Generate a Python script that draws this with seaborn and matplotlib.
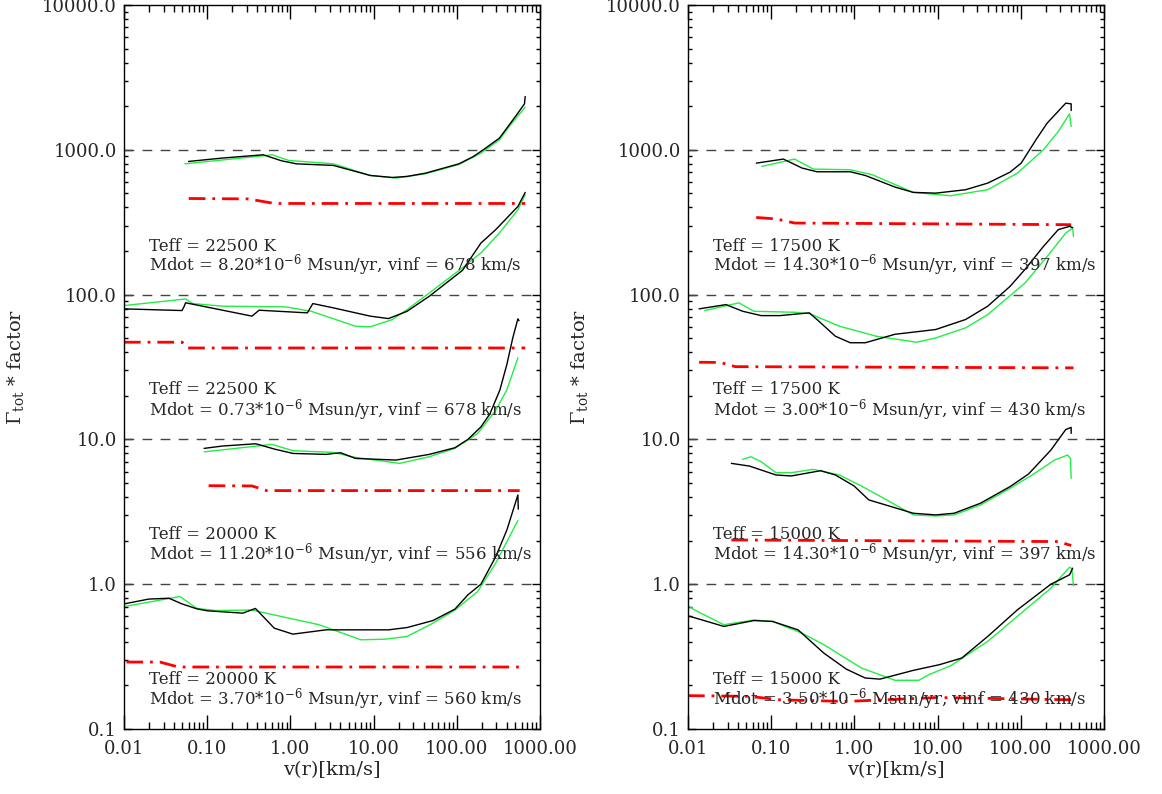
import numpy as np
import pandas as pd
import matplotlib
matplotlib.use("Agg")
import matplotlib.pyplot as plt
import matplotlib.ticker as mticker
import seaborn as sns

# ---------------- data ----------------
# Left panel
A_bk_x = [0.0597, 0.153, 0.471, 0.78, 1.18, 3.28, 6.05, 9.1, 16.8, 25.3, 42.2, 106, 159, 216, 325, 442, 542, 651, 664]
A_bk_y = [831, 877, 924, 840, 800, 780, 709, 665, 644, 655, 690, 800, 900, 1016, 1203, 1527, 1790, 2077, 2334]
A_gr_x = [0.054, 0.47, 0.6, 0.96, 3.28, 9.1, 18.6, 42, 106, 195, 325, 442, 664]
A_gr_y = [800, 909, 924, 844, 800, 665, 638, 683, 792, 948, 1172, 1487, 1968]
A_rd_x = [0.06, 0.31, 0.64, 664]
A_rd_y = [461, 458, 426, 426]

B_bk_x = [0.01, 0.0498, 0.053, 0.055, 0.346, 0.42, 1.60, 1.86, 3.28, 9.1, 15.1, 25.3, 46.7, 117, 195, 294, 542, 664]
B_bk_y = [79.7, 77.6, 83.2, 87.8, 71, 78, 74.8, 86.7, 81, 71, 68.3, 76.7, 97.4, 147, 227, 281, 406, 508]
B_gr_x = [0.01, 0.055, 0.067, 0.153, 0.87, 1.78, 6.05, 9.1, 16.8, 25.3, 46.7, 117, 195, 325, 542, 664]
B_gr_y = [84, 93.3, 86.7, 83.2, 82.3, 76.7, 60.5, 59.9, 67.2, 78.8, 102.6, 153, 194, 266, 385, 490]
B_rd_x = [0.01, 0.05, 0.058, 664]
B_rd_y = [46.9, 46.9, 42.8, 42.8]

C_bk_x = [0.0918, 0.153, 0.384, 0.64, 1.07, 2.69, 4.0, 6.05, 18.6, 46.7, 95, 136, 195, 250, 330, 400, 470, 542, 560]
C_bk_y = [8.67, 9.0, 9.33, 8.58, 8.0, 7.88, 8.09, 7.39, 7.2, 7.88, 8.76, 10, 12.2, 15, 22, 33, 50, 68, 66]
C_gr_x = [0.092, 0.6, 1.07, 3.28, 6.05, 20.5, 46.7, 95, 178, 294, 400, 542]
C_gr_y = [8.2, 9.24, 8.36, 8.13, 7.51, 6.83, 7.59, 8.67, 11.0, 15.9, 22, 36.6]
C_rd_x = [0.104, 0.346, 0.52, 570]
C_rd_y = [4.79, 4.77, 4.43, 4.43]

D_bk_x = [0.01, 0.0198, 0.0347, 0.0498, 0.0749, 0.101, 0.268, 0.38, 0.64, 1.07, 2.69, 15.1, 25.3, 51.7, 95, 136, 195, 294, 400, 542, 548]
D_bk_y = [0.731, 0.789, 0.80, 0.731, 0.676, 0.655, 0.631, 0.68, 0.497, 0.452, 0.484, 0.484, 0.502, 0.561, 0.673, 0.844, 1.0, 1.55, 2.37, 4.13, 3.3]
D_gr_x = [0.01, 0.047, 0.075, 0.125, 0.346, 0.78, 2.21, 7.05, 13.7, 25.3, 51.7, 95, 178, 294, 542]
D_gr_y = [0.70, 0.822, 0.681, 0.658, 0.663, 0.598, 0.525, 0.413, 0.417, 0.436, 0.538, 0.663, 0.889, 1.40, 2.75]
D_rd_x = [0.0107, 0.027, 0.045, 570]
D_rd_y = [0.29, 0.29, 0.268, 0.268]

# Right panel
E_bk_x = [0.0662, 0.140, 0.235, 0.355, 0.893, 1.35, 3.07, 5.1, 9.5, 21.7, 40.1, 74.3, 101, 152, 207, 347, 403, 403]
E_bk_y = [809, 863, 748, 705, 705, 665, 553, 508, 502, 530, 589, 701, 809, 1172, 1527, 2100, 2077, 1867]
E_gr_x = [0.077, 0.191, 0.32, 0.89, 1.64, 5.1, 14.3, 40.1, 91, 187, 282, 385, 403]
E_gr_y = [768, 863, 736, 728, 673, 508, 482, 530, 690, 1000, 1337, 1771, 1449]
E_rd_x = [0.066, 0.115, 0.191, 403]
E_rd_y = [341, 333, 312, 304]

F_bk_x = [0.0136, 0.0286, 0.0455, 0.0758, 0.127, 0.287, 0.355, 0.59, 0.893, 1.35, 3.07, 9.5, 21.7, 40.1, 74.3, 112, 187, 282, 385, 420]
F_bk_y = [79.7, 85.3, 76.7, 71.6, 71.6, 74.8, 67.3, 51.6, 46.5, 46.5, 53.2, 57.4, 67.3, 83.2, 114, 149, 215, 281, 296, 290]
F_gr_x = [0.0159, 0.0409, 0.0618, 0.191, 0.287, 0.66, 1.83, 5.6, 9.5, 21.7, 40.1, 112, 207, 347, 420, 430]
F_gr_y = [77.6, 87.7, 76.7, 75.5, 74, 60.5, 51.6, 46.9, 50.2, 58.9, 72.8, 120, 183, 266, 288, 252]
F_rd_x = [0.0136, 0.0245, 0.037, 430]
F_rd_y = [34.1, 34.0, 31.8, 31.2]

G_bk_x = [0.0332, 0.055, 0.114, 0.174, 0.393, 0.59, 0.99, 1.49, 5.1, 9.5, 15.8, 32.6, 74.3, 124, 230, 347, 403, 403]
G_bk_y = [6.83, 6.54, 5.68, 5.59, 6.08, 5.68, 4.77, 3.82, 3.09, 3.01, 3.09, 3.62, 4.72, 5.77, 8.44, 11.7, 12.1, 11.0]
G_gr_x = [0.0453, 0.057, 0.0758, 0.114, 0.174, 0.32, 0.66, 1.21, 2.25, 5.1, 9.5, 15.8, 32.6, 74.3, 137, 255, 365, 395, 403]
G_gr_y = [7.28, 7.59, 7.01, 5.89, 5.89, 6.21, 5.68, 4.77, 3.92, 3.01, 2.96, 3.01, 3.52, 4.59, 5.68, 7.2, 7.8, 7.4, 5.38]
G_rd_x = [0.0332, 282, 403]
G_rd_y = [2.02, 1.97, 1.85]

H_bk_x = [0.01, 0.027, 0.062, 0.104, 0.21, 0.43, 0.8, 1.35, 2.03, 5.1, 10.5, 19.5, 40.1, 91, 230, 385, 420]
H_bk_y = [0.605, 0.511, 0.561, 0.553, 0.484, 0.334, 0.259, 0.225, 0.221, 0.254, 0.278, 0.309, 0.436, 0.665, 1.0, 1.16, 1.29]
H_gr_x = [0.01, 0.0119, 0.027, 0.062, 0.104, 0.235, 0.43, 1.21, 3.07, 5.95, 7.8, 14.3, 40.1, 101, 230, 385, 410, 430]
H_gr_y = [0.71, 0.665, 0.525, 0.566, 0.553, 0.459, 0.382, 0.264, 0.217, 0.217, 0.237, 0.273, 0.403, 0.631, 0.938, 1.31, 1.28, 0.975]
H_rd_x = [0.01, 0.055, 0.127, 0.8, 10, 430]
H_rd_y = [0.170, 0.168, 0.159, 0.155, 0.165, 0.159]

ref_levels = [1.0, 10.0, 100.0, 1000.0]

left_labels = [
    ("Teff = 22500 K", r"Mdot = 8.20*10$^{-6}$ Msun/yr, vinf = 678 km/s", 215, 161),
    ("Teff = 22500 K", r"Mdot = 0.73*10$^{-6}$ Msun/yr, vinf = 678 km/s", 22.1, 15.9),
    ("Teff = 20000 K", r"Mdot = 11.20*10$^{-6}$ Msun/yr, vinf = 556 km/s", 2.19, 1.62),
    ("Teff = 20000 K", r"Mdot = 3.70*10$^{-6}$ Msun/yr, vinf = 560 km/s", 0.219, 0.162),
]
right_labels = [
    ("Teff = 17500 K", r"Mdot = 14.30*10$^{-6}$ Msun/yr, vinf = 397 km/s", 215, 161),
    ("Teff = 17500 K", r"Mdot = 3.00*10$^{-6}$ Msun/yr, vinf = 430 km/s", 22.1, 15.9),
    ("Teff = 15000 K", r"Mdot = 14.30*10$^{-6}$ Msun/yr, vinf = 397 km/s", 2.19, 1.62),
    ("Teff = 15000 K", r"Mdot = 3.50*10$^{-6}$ Msun/yr, vinf = 430 km/s", 0.219, 0.162),
]

x_ticks = [0.01, 0.1, 1, 10, 100, 1000]
x_ticklabels = ["0.01", "0.10", "1.00", "10.00", "100.00", "1000.00"]
y_ticks = [0.1, 1, 10, 100, 1000, 10000]
y_ticklabels = ["0.1", "1.0", "10.0", "100.0", "1000.0", "10000.0"]

# ---------------- style ----------------
sns.set_style("ticks")
plt.rcParams['font.family'] = ['DejaVu Serif']
plt.rcParams['mathtext.fontset'] = 'dejavuserif'

GREEN = "#22ee44"
RED = "#ff0000"

fig = plt.figure(figsize=(11.62, 7.94), dpi=100)
axL = fig.add_axes([124/1162, 1-729/794, 416/1162, 724/794])
axR = fig.add_axes([688/1162, 1-729/794, 416/1162, 724/794])

left_sets = [(A_bk_x, A_bk_y, A_gr_x, A_gr_y, A_rd_x, A_rd_y),
             (B_bk_x, B_bk_y, B_gr_x, B_gr_y, B_rd_x, B_rd_y),
             (C_bk_x, C_bk_y, C_gr_x, C_gr_y, C_rd_x, C_rd_y),
             (D_bk_x, D_bk_y, D_gr_x, D_gr_y, D_rd_x, D_rd_y)]
right_sets = [(E_bk_x, E_bk_y, E_gr_x, E_gr_y, E_rd_x, E_rd_y),
              (F_bk_x, F_bk_y, F_gr_x, F_gr_y, F_rd_x, F_rd_y),
              (G_bk_x, G_bk_y, G_gr_x, G_gr_y, G_rd_x, G_rd_y),
              (H_bk_x, H_bk_y, H_gr_x, H_gr_y, H_rd_x, H_rd_y)]


def draw(ax, sets, labels):
    ax.set_xscale('log')
    ax.set_yscale('log')
    for lev in ref_levels:
        ax.axhline(lev, color='#444444', lw=1.0, dashes=(7, 6), zorder=1)
    for (bx, by, gx, gy, rx, ry) in sets:
        sns.lineplot(x=bx, y=by, ax=ax, color='black', lw=1.0, sort=False, estimator=None, zorder=3)
        sns.lineplot(x=gx, y=gy, ax=ax, color=GREEN, lw=1.0, sort=False, estimator=None, zorder=2)
        sns.lineplot(x=rx, y=ry, ax=ax, color=RED, lw=2.0, sort=False, estimator=None, zorder=2,
                     dashes=False, linestyle=(0, (6, 2.5, 1, 2.5)))
    for (t1, t2, y1, y2) in labels:
        ax.text(0.02, y1, t1, fontsize=12, va='center', ha='left', zorder=4)
        ax.text(0.02, y2, t2, fontsize=12, va='center', ha='left', zorder=4)
    ax.set_xlim(0.01, 1000)
    ax.set_ylim(0.1, 10000)
    ax.set_xticks(x_ticks)
    ax.set_xticklabels(x_ticklabels)
    ax.set_yticks(y_ticks)
    ax.set_yticklabels(y_ticklabels)
    ax.xaxis.set_minor_locator(mticker.LogLocator(base=10, subs=np.arange(2, 10), numticks=20))
    ax.yaxis.set_minor_locator(mticker.LogLocator(base=10, subs=np.arange(2, 10), numticks=20))
    ax.xaxis.set_minor_formatter(mticker.NullFormatter())
    ax.yaxis.set_minor_formatter(mticker.NullFormatter())
    ax.tick_params(axis='both', which='both', direction='in', top=True, right=True,
                   labelsize=13, width=1.0, color='black')
    ax.tick_params(axis='x', which='major', length=10, pad=8)
    ax.tick_params(axis='x', which='minor', length=5)
    ax.tick_params(axis='y', which='major', length=6, pad=5)
    ax.tick_params(axis='y', which='minor', length=3)
    for sp in ax.spines.values():
        sp.set_visible(True)
        sp.set_linewidth(1.0)
        sp.set_color('black')
    ax.set_xlabel("v(r)[km/s]", fontsize=14, labelpad=2)
    ax.set_ylabel(r"$\Gamma_{\rm tot}$ * factor", fontsize=14, labelpad=12)


draw(axL, left_sets, left_labels)
draw(axR, right_sets, right_labels)

fig.savefig("out.png", dpi=100)
